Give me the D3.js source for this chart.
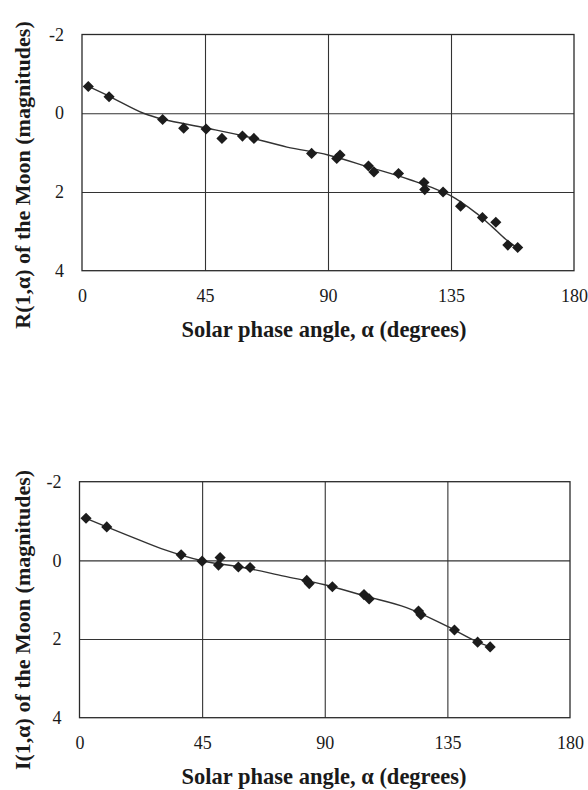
<!DOCTYPE html>
<html>
<head>
<meta charset="utf-8">
<script src="https://cdn.jsdelivr.net/npm/d3@7"></script>
<style>
  body { margin: 0; background: #fff; }
  text { font-family: "Liberation Serif", "Times New Roman", serif; fill: #1a1a1a; }
</style>
</head>
<body>
<div id="chart"></div>
<script>
// Trục chung
const xTicks = [0, 45, 90, 135, 180];
const yTicks = [-2, 0, 2, 4];

// Biểu đồ trên: R(1,α)
const phaseR = [2.3, 9.9, 29.5, 37.2, 45.4, 51.2, 58.7, 62.9, 84.0, 93.2, 94.4, 104.8, 106.8, 115.8, 125.1, 125.4, 132.1, 138.5, 146.5, 151.4, 155.8, 159.4];
const magR   = [-0.68, -0.42, 0.16, 0.38, 0.40, 0.64, 0.58, 0.64, 1.02, 1.15, 1.06, 1.34, 1.49, 1.53, 1.76, 1.94, 2.00, 2.36, 2.65, 2.77, 3.35, 3.41];
// đường xu hướng
const fitPhaseR = [2.3, 10, 22.5, 30, 45, 60, 75, 90, 105, 120, 135, 145, 150, 155, 160];
const fitMagR   = [-0.68, -0.43, 0, 0.16, 0.37, 0.59, 0.86, 1.06, 1.37, 1.69, 2.1, 2.58, 2.88, 3.2, 3.45];

// Biểu đồ dưới: I(1,α)
const phaseI = [2.4, 10.0, 37.3, 45.0, 51.6, 51.0, 58.3, 62.6, 83.4, 84.3, 92.8, 104.4, 106.3, 124.4, 125.3, 137.6, 146.1, 150.7];
const magI   = [-1.07, -0.85, -0.14, 0.02, -0.07, 0.12, 0.17, 0.18, 0.51, 0.59, 0.67, 0.87, 0.98, 1.29, 1.38, 1.77, 2.08, 2.20];
const fitPhaseI = [2.4, 10, 20, 30, 45, 60, 75, 90, 105, 120, 135, 145, 150.7];
const fitMagI   = [-1.07, -0.85, -0.57, -0.3, 0.01, 0.18, 0.40, 0.62, 0.91, 1.2, 1.68, 2.04, 2.2];

const svg = d3.select("#chart").append("svg")
    .attr("width", 588)
    .attr("height", 790);

function drawPanel(box, phase, mag, fitPhase, fitMag, yTitle, titleY) {
    let x = d3.scaleLinear().domain([0, 180]).range([box.left, box.right]);
    let y = d3.scaleLinear().domain([-2, 4]).range([box.top, box.bottom]);
    let h = box.bottom - box.top, w = box.right - box.left;

    let g = svg.append("g");

    // lưới dọc
    g.append("g")
        .attr("transform", `translate(0,${box.bottom})`)
        .call(d3.axisBottom(x).tickValues([45, 90, 135]).tickSize(-h).tickFormat(""))
        .call(s => s.select(".domain").remove())
        .selectAll("line").style("stroke", "#333").style("stroke-width", 1.1);

    // lưới ngang
    g.append("g")
        .attr("transform", `translate(${box.left},0)`)
        .call(d3.axisLeft(y).tickValues([0, 2]).tickSize(-w).tickFormat(""))
        .call(s => s.select(".domain").remove())
        .selectAll("line").style("stroke", "#333").style("stroke-width", 1.1);

    // khung
    g.append("rect")
        .attr("x", box.left).attr("y", box.top)
        .attr("width", w).attr("height", h)
        .attr("fill", "none").attr("stroke", "#2a2a2a").attr("stroke-width", 1.3);

    // nhãn trục X
    g.append("g")
        .attr("transform", `translate(0,${box.bottom})`)
        .call(d3.axisBottom(x).tickValues(xTicks).tickSize(0).tickPadding(19).tickFormat(d => String(d)))
        .call(s => s.select(".domain").remove())
        .selectAll("text")
        .style("font-size", "18px")
        .style("font-family", "Liberation Serif")
        .style("fill", "#1a1a1a");

    // nhãn trục Y
    g.append("g")
        .attr("transform", `translate(${box.left},0)`)
        .call(d3.axisLeft(y).tickValues(yTicks).tickSize(0).tickPadding(18).tickFormat(d => String(d)))
        .call(s => s.select(".domain").remove())
        .selectAll("text")
        .style("font-size", "18px")
        .style("font-family", "Liberation Serif")
        .style("fill", "#1a1a1a");

    // đường xu hướng
    let line = d3.line()
        .x((d, i) => x(fitPhase[i]))
        .y((d, i) => y(fitMag[i]))
        .curve(d3.curveCatmullRom);
    g.append("path")
        .datum(fitPhase)
        .attr("d", line)
        .attr("fill", "none")
        .attr("stroke", "#333")
        .attr("stroke-width", 1.4);

    // điểm dữ liệu (hình thoi)
    let diamond = d3.symbol().type(d3.symbolSquare).size(62);
    g.selectAll(".pt")
        .data(phase)
        .enter()
        .append("path")
        .attr("class", "pt")
        .attr("d", diamond)
        .attr("transform", (d, i) => `translate(${x(d)},${y(mag[i])}) rotate(45)`)
        .attr("fill", "#1c1c1c");

    // tiêu đề trục X
    g.append("text")
        .attr("x", 324)
        .attr("y", box.bottom + 66)
        .attr("text-anchor", "middle")
        .style("font-size", "22.5px")
        .style("font-weight", "bold")
        .text("Solar phase angle, α (degrees)");

    // tiêu đề trục Y
    g.append("text")
        .attr("transform", `translate(29.5,${titleY}) rotate(-90)`)
        .attr("text-anchor", "middle")
        .style("font-size", "22px")
        .style("font-weight", "bold")
        .text(yTitle);
}

drawPanel({ left: 82, right: 574, top: 34.5, bottom: 270.7 },
    phaseR, magR, fitPhaseR, fitMagR, "R(1,α) of the Moon (magnitudes)", 175);
drawPanel({ left: 79.5, right: 570, top: 481.7, bottom: 717.7 },
    phaseI, magI, fitPhaseI, fitMagI, "I(1,α) of the Moon (magnitudes)", 620);
</script>
</body>
</html>
